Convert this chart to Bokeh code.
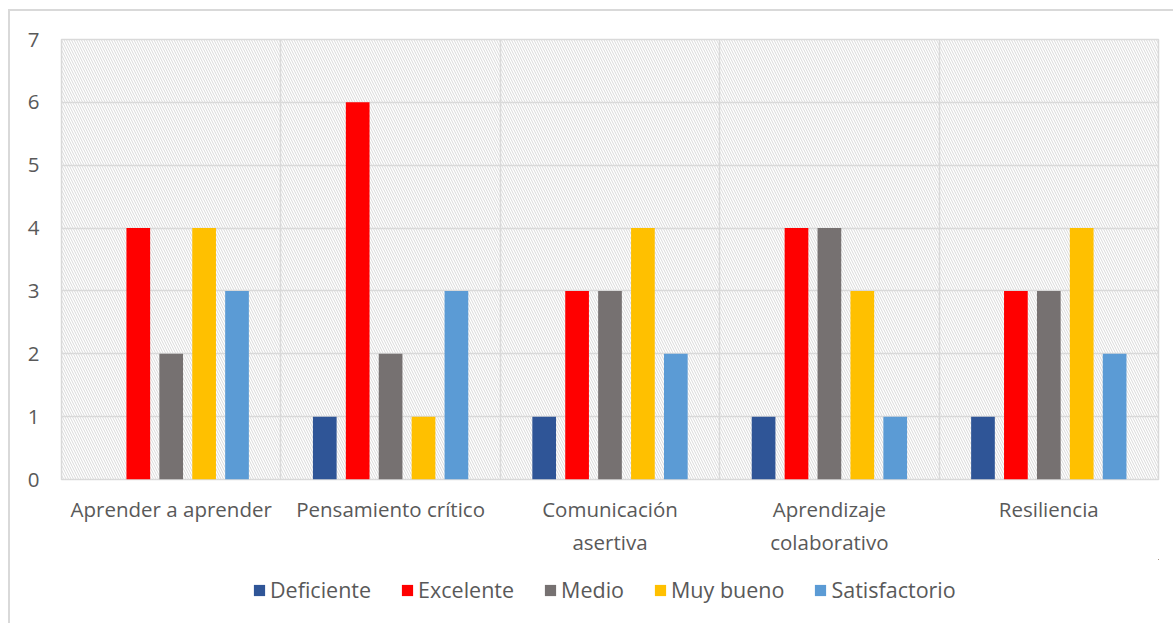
from bokeh.plotting import figure
from bokeh.layouts import column
from bokeh.models import FixedTicker, Legend, LegendItem, BoxAnnotation, ColumnDataSource, Range1d
from bokeh.embed import file_html
from bokeh.resources import INLINE

categories = ["Aprender a aprender", "Pensamiento crítico", "Comunicación\nasertiva",
              "Aprendizaje\ncolaborativo", "Resiliencia"]
series = ["Deficiente", "Excelente", "Medio", "Muy bueno", "Satisfactorio"]
deficiente = [0, 1, 1, 1, 1]
excelente = [4, 6, 3, 4, 3]
medio = [2, 2, 3, 4, 3]
muy_bueno = [4, 1, 4, 3, 4]
satisfactorio = [3, 3, 2, 1, 2]
y_ticks = [0, 1, 2, 3, 4, 5, 6, 7]

values = [deficiente, excelente, medio, muy_bueno, satisfactorio]
colors = ["#2F5597", "#FF0000", "#767171", "#FFC000", "#5B9BD5"]
offsets = [-0.3, -0.15, 0.0, 0.15, 0.3]
bar_w = 0.108
FONT = "Open Sans"
FS = "20.5px"
TXT = "#595959"
GRID = "#d9d9d9"
W = 1163

p = figure(width=W, height=548, x_range=(0, len(categories)), y_range=(y_ticks[0], y_ticks[-1]),
           output_backend="svg", toolbar_location=None,
           min_border_left=51, min_border_top=28, min_border_right=15, min_border_bottom=70)

p.add_layout(BoxAnnotation(fill_alpha=0, line_color=None, hatch_pattern="\\",
                           hatch_color="#d9d9d9", hatch_scale=5, hatch_weight=1.0,
                           hatch_alpha=1.0, level="underlay"))

centers = [i + 0.5 for i in range(len(categories))]
sources = []
for name, vals, col, off in zip(series, values, colors, offsets):
    src = ColumnDataSource(dict(x=[c + off for c in centers], top=vals))
    sources.append(src)
    p.vbar(x="x", top="top", bottom=0, width=bar_w, source=src,
           fill_color=col, line_color=None)

p.xaxis.ticker = FixedTicker(ticks=centers)
p.xaxis.major_label_overrides = {c: lab for c, lab in zip(centers, categories)}
p.yaxis.ticker = FixedTicker(ticks=y_ticks)
for ax in (p.xaxis[0], p.yaxis[0]):
    ax.axis_line_color = None
    ax.major_tick_line_color = None
    ax.minor_tick_line_color = None
    ax.major_label_text_font = FONT
    ax.major_label_text_font_size = FS
    ax.major_label_text_color = TXT
p.xaxis.major_label_standoff = 9
p.yaxis.major_label_standoff = 16

p.xgrid.ticker = FixedTicker(ticks=list(range(1, len(categories))))
p.xgrid.grid_line_color = GRID
p.xgrid.grid_line_width = 1.5
p.ygrid.grid_line_color = GRID
p.ygrid.grid_line_width = 1.5
p.outline_line_color = GRID
p.outline_line_width = 1.5

# legend in its own strip below the chart (its bars fall outside the strip's ranges)
lg = figure(width=W, height=64, x_range=Range1d(-20, -10), y_range=Range1d(-20, -10),
            output_backend="svg", toolbar_location=None,
            x_axis_location=None, y_axis_location=None,
            min_border_left=0, min_border_right=0, min_border_top=0, min_border_bottom=0)
lg.grid.visible = False
lg.outline_line_color = None
items = []
for name, col, src in zip(series, colors, sources):
    r = lg.vbar(x="x", top="top", bottom=0, width=bar_w, source=src,
                fill_color=col, line_color=None)
    items.append(LegendItem(label=name, renderers=[r]))
legend = Legend(items=items, orientation="horizontal", location=(191, 19),
                label_text_font=FONT, label_text_font_size="21.5px", label_text_color=TXT,
                glyph_width=14, glyph_height=14, label_standoff=4, spacing=29,
                border_line_color=None, background_fill_alpha=0, margin=0, padding=0)
lg.add_layout(legend)

layout = column(p, lg, spacing=0)
layout.margin = (9, 0, 0, 8)
layout.styles = {"border-left": "2px solid #d9d9d9", "border-top": "2px solid #d9d9d9"}

open("out.html", "w").write(file_html(layout, INLINE))
